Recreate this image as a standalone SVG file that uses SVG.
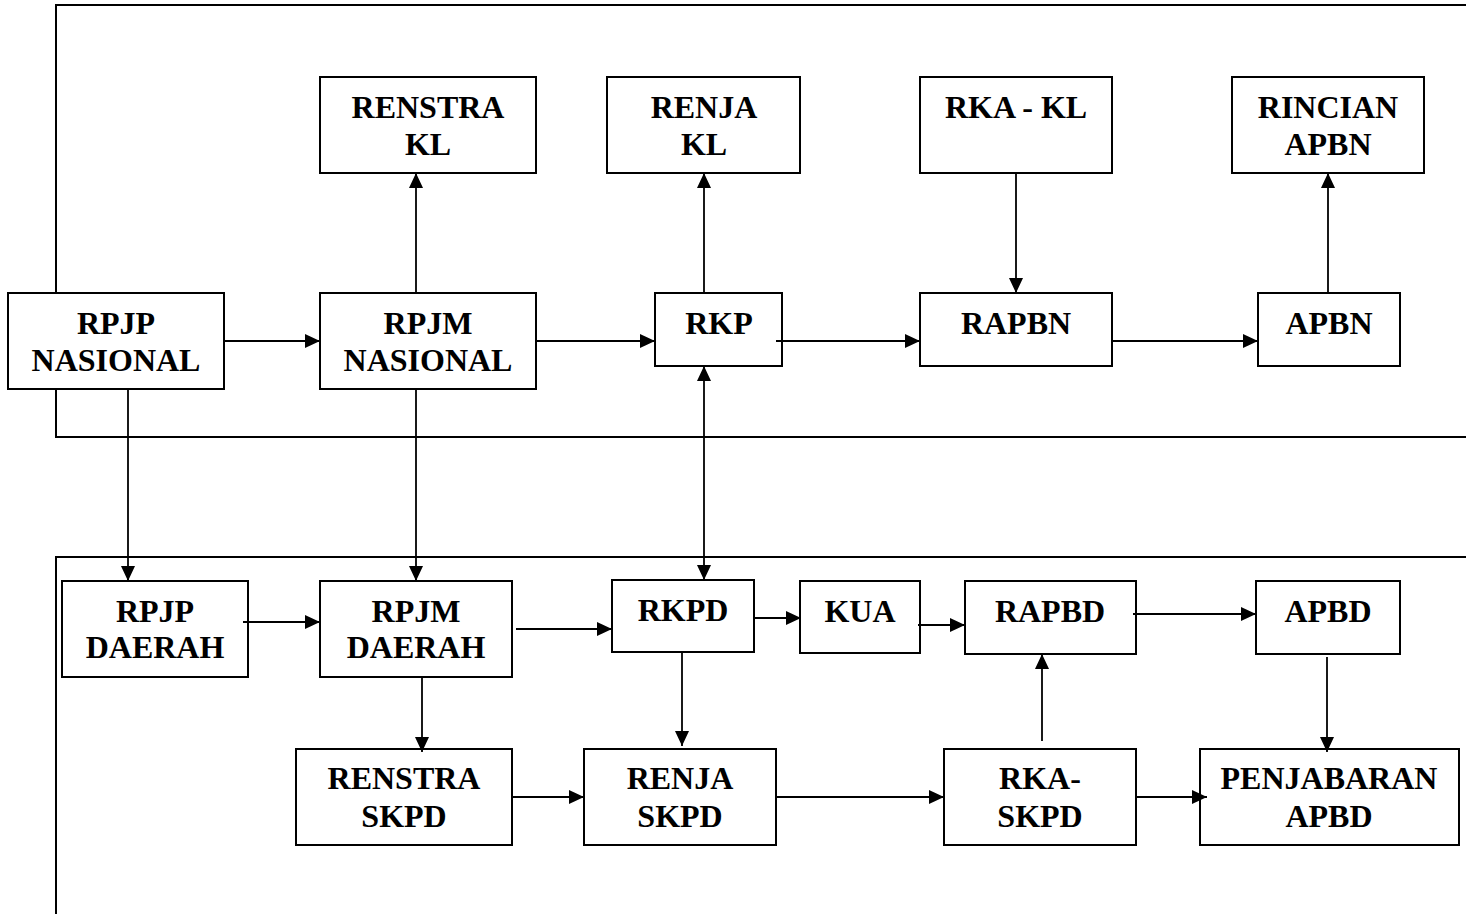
<svg xmlns="http://www.w3.org/2000/svg" width="1466" height="914" viewBox="0 0 1466 914">
<style>
.frame{fill:none;stroke:#000;stroke-width:2}
.box{fill:#fff;stroke:#000;stroke-width:2}
.t{font-family:"Liberation Serif","Times New Roman",serif;font-weight:bold;font-size:32px;text-anchor:middle;fill:#000}
.c{fill:none;stroke:#000;stroke-width:1.8}
</style>
<defs>
<marker id="ah" markerUnits="userSpaceOnUse" markerWidth="16" markerHeight="14" refX="15" refY="7" orient="auto-start-reverse" viewBox="0 0 16 14">
<path d="M0,0 L15,7 L0,14 z" fill="#000"/>
</marker>
</defs>
<rect width="1466" height="914" fill="#fff"/>
<g id="frames">
<polyline class="frame" points="1466,5 56,5 56,437 1466,437"/>
<polyline class="frame" points="1466,557 56,557 56,914"/>
</g>
<g id="renstra-kl"><rect class="box" x="320" y="77" width="216" height="96"/><text class="t" x="428" y="118">RENSTRA</text><text class="t" x="428" y="155">KL</text></g>
<g id="renja-kl"><rect class="box" x="607" y="77" width="193" height="96"/><text class="t" x="704" y="118">RENJA</text><text class="t" x="704" y="155">KL</text></g>
<g id="rka-kl"><rect class="box" x="920" y="77" width="192" height="96"/><text class="t" x="1016" y="118">RKA - KL</text></g>
<g id="rincian-apbn"><rect class="box" x="1232" y="77" width="192" height="96"/><text class="t" x="1328" y="118">RINCIAN</text><text class="t" x="1328" y="155">APBN</text></g>
<g id="rpjp-nasional"><rect class="box" x="8" y="293" width="216" height="96"/><text class="t" x="116" y="334">RPJP</text><text class="t" x="116" y="371">NASIONAL</text></g>
<g id="rpjm-nasional"><rect class="box" x="320" y="293" width="216" height="96"/><text class="t" x="428" y="334">RPJM</text><text class="t" x="428" y="371">NASIONAL</text></g>
<g id="rkp"><rect class="box" x="655" y="293" width="127" height="73"/><text class="t" x="719" y="334">RKP</text></g>
<g id="rapbn"><rect class="box" x="920" y="293" width="192" height="73"/><text class="t" x="1016" y="334">RAPBN</text></g>
<g id="apbn"><rect class="box" x="1258" y="293" width="142" height="73"/><text class="t" x="1329" y="334">APBN</text></g>
<g id="rpjp-daerah"><rect class="box" x="62" y="581" width="186" height="96"/><text class="t" x="155" y="622">RPJP</text><text class="t" x="155" y="658">DAERAH</text></g>
<g id="rpjm-daerah"><rect class="box" x="320" y="581" width="192" height="96"/><text class="t" x="416" y="622">RPJM</text><text class="t" x="416" y="658">DAERAH</text></g>
<g id="rkpd"><rect class="box" x="612" y="580" width="142" height="72"/><text class="t" x="683" y="621">RKPD</text></g>
<g id="kua"><rect class="box" x="800" y="581" width="120" height="72"/><text class="t" x="860" y="622">KUA</text></g>
<g id="rapbd"><rect class="box" x="965" y="581" width="171" height="73"/><text class="t" x="1050" y="622">RAPBD</text></g>
<g id="apbd"><rect class="box" x="1256" y="581" width="144" height="73"/><text class="t" x="1328" y="622">APBD</text></g>
<g id="renstra-skpd"><rect class="box" x="296" y="749" width="216" height="96"/><text class="t" x="404" y="789">RENSTRA</text><text class="t" x="404" y="827">SKPD</text></g>
<g id="renja-skpd"><rect class="box" x="584" y="749" width="192" height="96"/><text class="t" x="680" y="789">RENJA</text><text class="t" x="680" y="827">SKPD</text></g>
<g id="rka-skpd"><rect class="box" x="944" y="749" width="192" height="96"/><text class="t" x="1040" y="789">RKA-</text><text class="t" x="1040" y="827">SKPD</text></g>
<g id="penjabaran-apbd"><rect class="box" x="1200" y="749" width="259" height="96"/><text class="t" x="1329" y="789">PENJABARAN</text><text class="t" x="1329" y="827">APBD</text></g>
<g id="connectors">
<line class="c" x1="224" y1="341" x2="320" y2="341" marker-end="url(#ah)"/>
<line class="c" x1="536" y1="341" x2="655" y2="341" marker-end="url(#ah)"/>
<line class="c" x1="776" y1="341" x2="920" y2="341" marker-end="url(#ah)"/>
<line class="c" x1="1112" y1="341" x2="1258" y2="341" marker-end="url(#ah)"/>
<line class="c" x1="416" y1="293" x2="416" y2="173" marker-end="url(#ah)"/>
<line class="c" x1="704" y1="293" x2="704" y2="173" marker-end="url(#ah)"/>
<line class="c" x1="1016" y1="173" x2="1016" y2="293" marker-end="url(#ah)"/>
<line class="c" x1="1328" y1="293" x2="1328" y2="173" marker-end="url(#ah)"/>
<line class="c" x1="128" y1="389" x2="128" y2="581" marker-end="url(#ah)"/>
<line class="c" x1="416" y1="389" x2="416" y2="581" marker-end="url(#ah)"/>
<line class="c" x1="704" y1="366" x2="704" y2="580" marker-start="url(#ah)" marker-end="url(#ah)"/>
<line class="c" x1="243" y1="622" x2="320" y2="622" marker-end="url(#ah)"/>
<line class="c" x1="516" y1="629" x2="612" y2="629" marker-end="url(#ah)"/>
<line class="c" x1="754" y1="618" x2="801" y2="618" marker-end="url(#ah)"/>
<line class="c" x1="918" y1="625" x2="965" y2="625" marker-end="url(#ah)"/>
<line class="c" x1="1133" y1="614" x2="1256" y2="614" marker-end="url(#ah)"/>
<line class="c" x1="422" y1="677" x2="422" y2="752" marker-end="url(#ah)"/>
<line class="c" x1="682" y1="652" x2="682" y2="746" marker-end="url(#ah)"/>
<line class="c" x1="512" y1="797" x2="584" y2="797" marker-end="url(#ah)"/>
<line class="c" x1="776" y1="797" x2="944" y2="797" marker-end="url(#ah)"/>
<line class="c" x1="1042" y1="741" x2="1042" y2="654" marker-end="url(#ah)"/>
<line class="c" x1="1327" y1="657" x2="1327" y2="752" marker-end="url(#ah)"/>
<line class="c" x1="1136" y1="797" x2="1207" y2="797" marker-end="url(#ah)"/>
</g>
</svg>
